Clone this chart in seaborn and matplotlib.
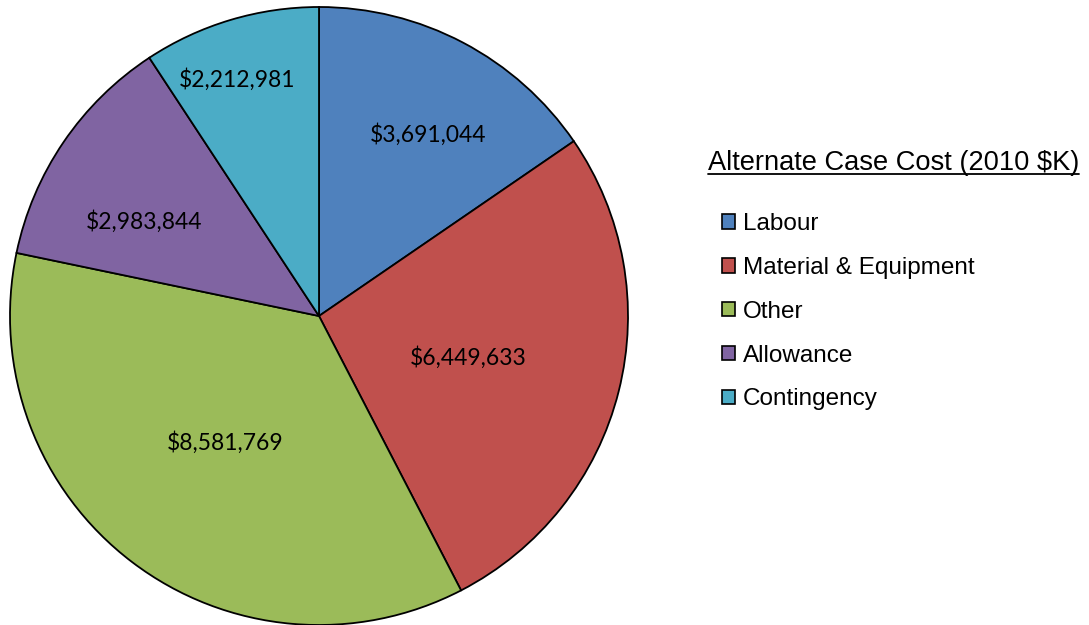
import matplotlib

matplotlib.use("Agg")

import matplotlib.pyplot as plt
import numpy as np
import seaborn as sns
from matplotlib.lines import Line2D
from matplotlib.patches import Patch

categories = ["Labour", "Material & Equipment", "Other", "Allowance", "Contingency"]
costs = [3691044, 6449633, 8581769, 2983844, 2212981]
colors = ["#4F81BD", "#C0504D", "#9BBB59", "#8064A2", "#4BACC6"]
# Excel "best fit" label placement: distance (fraction of radius) and turn (deg) from the mid angle
label_dist = [0.684, 0.50, 0.509, 0.643, 0.81]
label_turn = [-3.3, -1.4, 0.5, 6.0, 2.4]
legend_title = "Alternate Case Cost (2010 $K)"


def main():
    sns.set_theme(style="white")
    plt.rcParams["font.family"] = ["Liberation Sans", "DejaVu Sans"]
    palette = sns.color_palette(colors)

    fig = plt.figure(figsize=(10.89, 6.25), dpi=100)
    W, H = 1089, 625
    cx, cy, r = 319, 316, 309
    ax = fig.add_axes([(cx - r) / W, (H - cy - r) / H, 2 * r / W, 2 * r / H])

    wedges, _ = ax.pie(
        costs,
        colors=palette,
        startangle=90,
        counterclock=False,
        radius=1,
        wedgeprops={"edgecolor": "black", "linewidth": 1.3},
    )
    # pie() resets the limits, so fix them afterwards
    ax.set_xlim(-1, 1)
    ax.set_ylim(-1, 1)
    ax.set_aspect("equal")
    ax.axis("off")

    for w, val, d, turn in zip(wedges, costs, label_dist, label_turn):
        mid = np.deg2rad((w.theta1 + w.theta2) / 2 + turn)
        ax.text(
            d * np.cos(mid),
            d * np.sin(mid),
            f"${val:,}",
            ha="center",
            va="center",
            fontsize=16.5,
            family=["Lato", "DejaVu Sans"],
            color="black",
        )

    handles = [
        Patch(facecolor=c, edgecolor="black", linewidth=1.2) for c in palette
    ]
    fig.legend(
        handles,
        categories,
        loc="upper left",
        bbox_to_anchor=(722 / W, 1 - 213 / H),
        frameon=False,
        fontsize=17.5,
        labelcolor="black",
        labelspacing=0.9,
        handlelength=0.55,
        handleheight=0.55,
        handletextpad=0.3,
        borderpad=0,
        borderaxespad=0,
    )

    title = fig.text(708 / W, 1 - 163 / H, legend_title, fontsize=19.6,
                     ha="left", va="center", color="black")
    fig.canvas.draw()
    bb = title.get_window_extent(renderer=fig.canvas.get_renderer())
    inv = fig.transFigure.inverted()
    (x0, y0), (x1, _) = inv.transform([(bb.x0, bb.y0 + 2), (bb.x1, bb.y1)])
    fig.add_artist(Line2D([x0, x1], [y0, y0], transform=fig.transFigure,
                          color="black", linewidth=1.3))

    fig.savefig("out.png", dpi=100)
    plt.close(fig)


if __name__ == "__main__":
    main()
